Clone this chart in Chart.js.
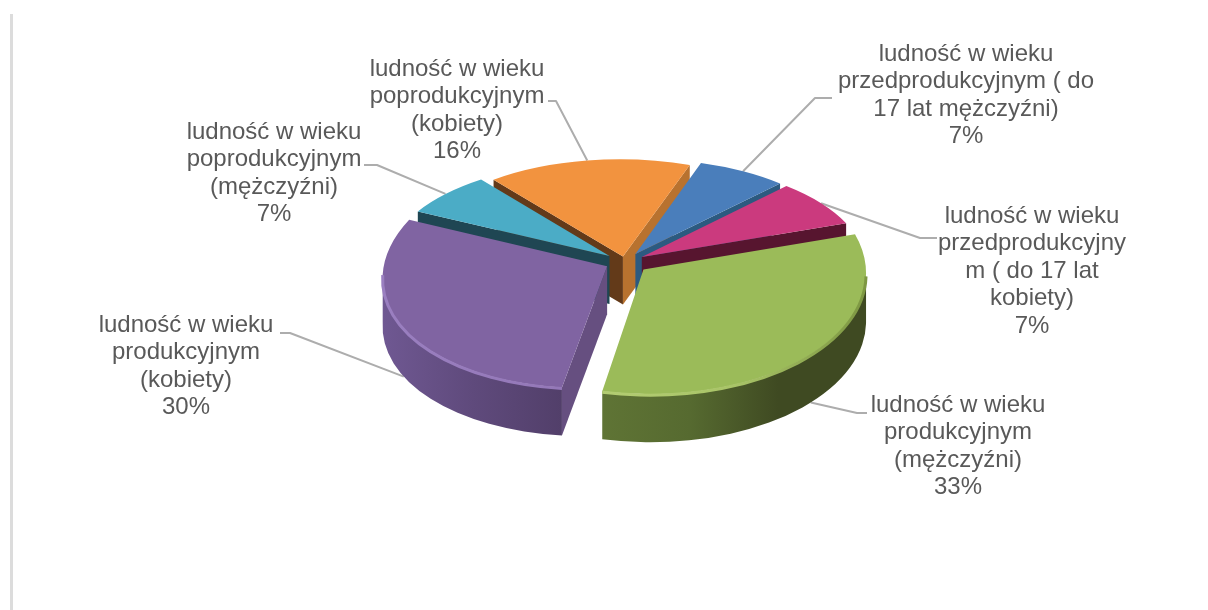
<!DOCTYPE html>
<html><head><meta charset="utf-8">
<style>html,body{margin:0;padding:0;background:#fff}canvas{display:block}</style>
<script src="https://cdn.jsdelivr.net/npm/chart.js@4"></script></head>
<body><canvas id="c" width="1208" height="610"></canvas>
<script>
// ---- data ----
const categories = [
  "ludność w wieku przedprodukcyjnym ( do 17 lat mężczyźni)",
  "ludność w wieku przedprodukcyjnym ( do 17 lat kobiety)",
  "ludność w wieku produkcyjnym (mężczyźni)",
  "ludność w wieku produkcyjnym (kobiety)",
  "ludność w wieku poprodukcyjnym (mężczyźni)",
  "ludność w wieku poprodukcyjnym (kobiety)"
];
const values = [7, 7.4, 33, 29.6, 7, 16];
const percentLabels = ["7%", "7%", "33%", "30%", "7%", "16%"];
const labelLines = [
  ["ludność w wieku", "przedprodukcyjnym ( do", "17 lat mężczyźni)"],
  ["ludność w wieku", "przedprodukcyjny", "m ( do 17 lat", "kobiety)"],
  ["ludność w wieku", "produkcyjnym", "(mężczyźni)"],
  ["ludność w wieku", "produkcyjnym", "(kobiety)"],
  ["ludność w wieku", "poprodukcyjnym", "(mężczyźni)"],
  ["ludność w wieku", "poprodukcyjnym", "(kobiety)"]
];
// ---- styles ----
const topColors  = ["#4a7ebb", "#cb3a7e", "#9bbb59", "#8064a2", "#4bacc6", "#f2933f"];
const cutStart   = ["#2c5a80", "#57152f", "#4f6128", "#664f80", "#1f4653", "#633a19"];
const cutEnd     = ["#2c5a80", "#57152f", "#4f6128", "#4f3d66", "#1f4653", "#b8722f"];
const wallStops  = [
  ["#2c5a80", "#2c5a80"], ["#57152f", "#57152f"],
  ["#5f7435", "#566a30", "#3f4a22", "#3f4a22"],
  ["#6f5892", "#5f4a7c", "#523f6a"],
  ["#1f4653", "#1f4653"], ["#633a19", "#633a19"]
];
const bevelColors = [null, null, ["#b3cd72", "#a9c468", "#7d9742"], ["#9a7fc0", "#9478b8"], null, null];
const explode = [20, 20, 24, 20, 20, 12];
const sizeScale = [1, 1, 1.025, 1.025, 1, 1];
const paintOrder = [5, 0, 4, 1, 3, 2];
const labelCenters = [966, 1032, 958, 186, 274, 457];
const labelBaselines = [61, 223, 412, 332, 139, 76];
const labelStep = 27.4;
const elbowFrom = [[815, 98], [920, 238], [857, 413], [290, 333], [377, 165], [556, 101]];
const elbowTo = [[832, 98], [937, 238], [867, 413], [280, 333], [364, 165], [548, 101]];
const SQUASH = 0.475, PERSP = 0.1, CENTER_X = 625, CENTER_Y = 262, DEPTH = 48, PLANE_R = 225;

const project = (u, v) => { const w = 1 - PERSP * v / PLANE_R; return [CENTER_X + u / w, CENTER_Y + SQUASH * v / w]; };

function sliceGeom(el, i) {
  const p = el.getProps(["x", "y", "startAngle", "endAngle", "outerRadius"]);
  const mid = (p.startAngle + p.endAngle) / 2, R = p.outerRadius, a0 = p.startAngle, a1 = p.endAngle;
  const tx = Math.cos(mid) * explode[i], ty = Math.sin(mid) * explode[i];
  // source: the arc as the library laid it out; destination: same sector exploded and put in perspective
  const L = [[0, 0], [R * Math.cos(a0), R * Math.sin(a0)], [R * Math.cos(a1), R * Math.sin(a1)]];
  const D = L.map(q => project(tx + q[0] * sizeScale[i], ty + q[1] * sizeScale[i]));
  const det = L[1][0] * L[2][1] - L[2][0] * L[1][1];
  const ax = ((D[1][0] - D[0][0]) * L[2][1] - (D[2][0] - D[0][0]) * L[1][1]) / det;
  const cx = ((D[2][0] - D[0][0]) * L[1][0] - (D[1][0] - D[0][0]) * L[2][0]) / det;
  const bx = ((D[1][1] - D[0][1]) * L[2][1] - (D[2][1] - D[0][1]) * L[1][1]) / det;
  const dx = ((D[2][1] - D[0][1]) * L[1][0] - (D[1][1] - D[0][1]) * L[2][0]) / det;
  const m = [ax, bx, cx, dx, D[0][0] - ax * p.x - cx * p.y, D[0][1] - bx * p.x - dx * p.y];
  const map = (x, y) => [m[0] * x + m[2] * y + m[4], m[1] * x + m[3] * y + m[5]];
  return { m, map, cx: p.x, cy: p.y, R, a0, a1, mid };
}

const pie3d = {
  id: "pie3d",
  beforeDatasetDraw(chart, args) {
    const ctx = chart.ctx, els = chart.getDatasetMeta(args.index).data;
    const geoms = els.map(sliceGeom);
    ctx.save(); ctx.fillStyle = "#dcdcdc"; ctx.fillRect(10, 14, 3, 596);
    ctx.strokeStyle = "#adadad"; ctx.lineWidth = 2; ctx.lineJoin = "round";
    geoms.forEach((g, i) => {
      const ax = g.cx + g.R * Math.cos(g.mid), ay = g.cy + g.R * Math.sin(g.mid);
      const s = g.map(ax, ay), z = Math.sin(g.mid) > 0 ? DEPTH : 0;
      ctx.beginPath(); ctx.moveTo(s[0], s[1] + z);
      ctx.lineTo(elbowFrom[i][0], elbowFrom[i][1]); ctx.lineTo(elbowTo[i][0], elbowTo[i][1]); ctx.stroke();
    });
    ctx.restore();
    paintOrder.forEach(i => {
      const g = geoms[i], m = g.m;
      const T = g.map(g.cx, g.cy);
      const P0 = g.map(g.cx + g.R * Math.cos(g.a0), g.cy + g.R * Math.sin(g.a0));
      const P1 = g.map(g.cx + g.R * Math.cos(g.a1), g.cy + g.R * Math.sin(g.a1));
      const b0 = Math.max(g.a0, 0), b1 = Math.min(g.a1, Math.PI), front = b1 > b0;
      let xMin = Infinity, xMax = -Infinity;
      for (let k = 0; k <= 40; k++) {
        const a = g.a0 + (g.a1 - g.a0) * k / 40, q = g.map(g.cx + g.R * Math.cos(a), g.cy + g.R * Math.sin(a));
        xMin = Math.min(xMin, q[0]); xMax = Math.max(xMax, q[0]);
      }
      // outer wall only where it faces the viewer
      if (front) {
        const grad = ctx.createLinearGradient(xMin, 0, xMax, 0);
        wallStops[i].forEach((c, k, arr) => grad.addColorStop(k / (arr.length - 1), c));
        ctx.save();
        ctx.beginPath();
        ctx.setTransform(m[0], m[1], m[2], m[3], m[4], m[5]);
        ctx.arc(g.cx, g.cy, g.R, b0, b1);
        ctx.setTransform(m[0], m[1], m[2], m[3], m[4], m[5] + DEPTH);
        ctx.arc(g.cx, g.cy, g.R, b1, b0, true);
        ctx.closePath();
        ctx.setTransform(1, 0, 0, 1, 0, 0);
        ctx.fillStyle = grad; ctx.fill();
        ctx.restore();
      }
      // cut faces only where they face the viewer
      const quad = (P, color) => {
        ctx.fillStyle = color; ctx.beginPath();
        ctx.moveTo(T[0], T[1]); ctx.lineTo(P[0], P[1]); ctx.lineTo(P[0], P[1] + DEPTH); ctx.lineTo(T[0], T[1] + DEPTH);
        ctx.closePath(); ctx.fill();
      };
      if (Math.cos(g.a0) < 0) quad(P0, cutStart[i]);
      if (Math.cos(g.a1) > 0) quad(P1, cutEnd[i]);
      // top face: the library's own arc element
      ctx.save();
      ctx.setTransform(m[0], m[1], m[2], m[3], m[4], m[5]);
      els[i].draw(ctx, chart.chartArea);
      ctx.restore();
      if (bevelColors[i]) {
        const bg = ctx.createLinearGradient(xMin, 0, xMax, 0);
        bevelColors[i].forEach((c, k, arr) => bg.addColorStop(k / (arr.length - 1), c));
        ctx.save();
        ctx.beginPath();
        ctx.setTransform(m[0], m[1], m[2], m[3], m[4], m[5] + 1);
        ctx.arc(g.cx, g.cy, g.R, b0, b1);
        ctx.setTransform(1, 0, 0, 1, 0, 0);
        ctx.strokeStyle = bg; ctx.lineWidth = 3; ctx.stroke();
        ctx.restore();
      }
    });
    return false;
  },
  afterDraw(chart) {
    const ctx = chart.ctx;
    ctx.save();
    ctx.fillStyle = "#595959"; ctx.font = "24px 'Liberation Sans', Arial, sans-serif";
    ctx.textAlign = "center"; ctx.textBaseline = "alphabetic";
    labelLines.forEach((lines, i) => {
      lines.concat(percentLabels[i]).forEach((t, k) => {
        ctx.fillText(t, labelCenters[i], labelBaselines[i] + k * labelStep);
      });
    });
    ctx.restore();
  }
};

new Chart(document.getElementById("c"), {
  type: "pie",
  data: { labels: categories, datasets: [{ data: values, backgroundColor: topColors, borderWidth: 0 }] },
  options: {
    responsive: false, animation: false, rotation: 19, radius: 225,
    layout: { padding: 0 },
    plugins: { legend: { display: false }, tooltip: { enabled: false } }
  },
  plugins: [pie3d]
});
</script></body></html>
